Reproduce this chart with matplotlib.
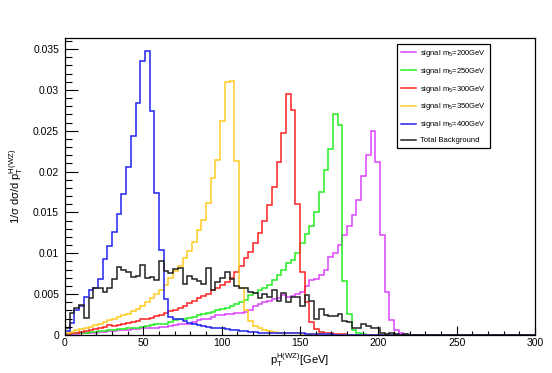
import numpy as np
import matplotlib
matplotlib.use("Agg")
import matplotlib.pyplot as plt
from matplotlib.ticker import MultipleLocator

plt.rcParams['font.family'] = ['Liberation Sans', 'DejaVu Sans']
plt.rcParams['mathtext.fontset'] = 'custom'
plt.rcParams['mathtext.rm'] = 'Liberation Sans'
plt.rcParams['mathtext.it'] = 'Liberation Sans'
plt.rcParams['mathtext.default'] = 'regular'

# p_T^{H(WZ)} histograms, 100 bins of 3 GeV from 0 to 300
edges = np.arange(0, 303, 3)

sig_400 = [.0005, .0015, .0030, .0036, .0047, .0055, .0057, .0068, .0093, .0109,
           .0126, .0148, .0172, .0206, .0243, .0284, .0335, .0347, .0274, .0174,
           .0104, .0044, .0022, .0020, .0019, .0017, .0015, .0013, .0012, .0011,
           .0010, .0009, .0008, .0008, .0007, .0006, .0006, .0005, .0005, .0004,
           .0004, .0003, .0003, .0003, .0003, .0003, .0002, .0002, .0002, .0002,
           .0002, .0001, .0001, .0001, .0001, .0001, .00008, .00006, .00005, .00005,
           .00004, .00003, .00003, .00002, .00002, .00001, .00001]
sig_350 = [.0002, .0004, .0006, .0007, .0009, .0010, .0012, .0014, .0016, .0018,
           .0020, .0022, .0024, .0026, .0029, .0032, .0036, .0040, .0045, .0050,
           .0055, .0061, .0070, .0078, .0085, .0094, .0103, .0114, .0128, .0141,
           .0162, .0192, .0214, .0262, .0310, .0311, .0213, .0057, .0031, .0017,
           .0011, .0008, .0006, .0005, .0004, .0003, .0002, .0002, .0002, .0002,
           .0001, .0001, .0001, .0001, .0001, .00008, .00006, .00005, .00004, .00003,
           .00002, .00002, .00001]
sig_300 = [.0001, .0002, .0003, .0004, .0005, .0006, .0007, .0008, .0010, .0012,
           .0011, .0012, .0014, .0015, .0016, .0017, .0019, .0020, .0021, .0023,
           .0025, .0027, .0029, .0031, .0033, .0036, .0039, .0042, .0045, .0048,
           .0050, .0055, .0058, .0061, .0065, .0070, .0077, .0085, .0094, .0102,
           .0112, .0125, .0140, .0159, .0181, .0212, .0247, .0295, .0275, .0160,
           .0077, .0040, .0016, .0007, .0004, .0003, .0002, .0001, .0001, .0001,
           .00005, .00003, .00002]
sig_250 = [.0001, .0002, .0002, .0003, .0003, .0004, .0004, .0005, .0005, .0006,
           .0006, .0007, .0007, .0008, .0008, .0009, .0010, .0011, .0012, .0013,
           .0014, .0014, .0016, .0018, .0019, .0020, .0021, .0022, .0024, .0026,
           .0027, .0028, .0030, .0032, .0033, .0035, .0038, .0040, .0043, .0049,
           .0052, .0055, .0058, .0061, .0067, .0073, .0080, .0088, .0092, .0100,
           .0112, .0124, .0134, .0150, .0175, .0202, .0228, .0271, .0257, .0066,
           .0026, .0006, .0002, .0001, .00005]
sig_200 = [0, .0001, .0001, .0002, .0002, .0003, .0003, .0004, .0004, .0005,
           .0005, .0006, .0006, .0006, .0007, .0007, .0008, .0008, .0009, .0009,
           .0010, .0010, .0011, .0012, .0013, .0013, .0014, .0016, .0018, .0019,
           .0020, .0022, .0024, .0025, .0026, .0026, .0027, .0027, .0028, .0030,
           .0036, .0038, .0041, .0042, .0044, .0045, .0049, .0046, .0048, .0050,
           .0053, .0060, .0067, .0068, .0074, .0080, .0096, .0100, .0110, .0122,
           .0133, .0147, .0165, .0195, .0220, .0250, .0212, .0122, .0053, .0018,
           .0006, .0002, .0001]
bkg = [.0008, .0027, .0033, .0037, .0021, .0045, .0057, .0058, .0053, .0058,
       .0068, .0083, .0079, .0077, .0071, .0072, .0086, .0070, .0071, .0067,
       .0090, .0078, .0076, .0081, .0082, .0063, .0072, .0068, .0066, .0063,
       .0082, .0055, .0065, .0070, .0077, .0068, .0060, .0058, .0057, .0053,
       .0051, .0045, .0050, .0047, .0055, .0042, .0052, .0040, .0047, .0047,
       .0035, .0049, .0042, .0020, .0032, .0024, .0023, .0023, .0026, .0017,
       .0016, .0008, .0009, .0014, .0011, .0009, .0008, .0003, .0001, .0002,
       .0001, .00005, .0001]

labels = [r'signal m$_5$=200GeV', r'signal m$_5$=250GeV', r'signal m$_5$=300GeV',
          r'signal m$_5$=350GeV', r'signal m$_5$=400GeV', 'Total Background']
series = [sig_200, sig_250, sig_300, sig_350, sig_400, bkg]
colors = ['#dd44ff', '#22ee22', '#ff2020', '#ffcc22', '#2222ee', '#222222']


def pad(v, n=100):
    return np.array(list(v) + [0.0] * (n - len(v)))


fig = plt.figure(figsize=(5.52, 3.73), dpi=100)
ax = fig.add_axes([65/552, 1-335/373, 470/552, 297/373])

for vals, col, lab in zip(series, colors, labels):
    ax.stairs(pad(vals), edges, color=col, lw=1.1, label=lab, baseline=None)

ax.set_xlim(0, 300)
ax.set_ylim(0, 0.03635)

ax.xaxis.set_major_locator(MultipleLocator(50))
ax.xaxis.set_minor_locator(MultipleLocator(10))
ax.yaxis.set_major_locator(MultipleLocator(0.005))
ax.yaxis.set_minor_locator(MultipleLocator(0.001))
ax.yaxis.set_major_formatter(plt.FuncFormatter(lambda v, p: ('%g' % round(v, 4))))

ax.tick_params(axis='both', which='both', direction='in', top=False, right=False,
               labelsize=7.5, width=0.8)
ax.tick_params(axis='y', which='major', length=9.4, pad=4.3)
ax.tick_params(axis='y', which='minor', length=5)
ax.tick_params(axis='x', which='major', length=6.5, pad=2.5)
ax.tick_params(axis='x', which='minor', length=3.2)
for s in ax.spines.values():
    s.set_linewidth(0.9)

ax.set_xlabel(r'p$_T^{H(WZ)}$[GeV]', fontsize=8)
ax.set_ylabel(r'1/σ dσ/d p$_T^{H(WZ)}$', fontsize=8)
ax.xaxis.set_label_coords(0.5, -0.055)
ax.yaxis.set_label_coords(-0.085, 0.5)

leg = ax.legend(loc='upper left', bbox_to_anchor=(0.706, 0.980), fontsize=5.5,
                frameon=True, fancybox=False, framealpha=1, edgecolor='black',
                handlelength=2.0, labelspacing=0.9, borderpad=0.5,
                handletextpad=0.5, borderaxespad=0)
leg.get_frame().set_linewidth(0.9)

fig.savefig('out.png', dpi=100)
